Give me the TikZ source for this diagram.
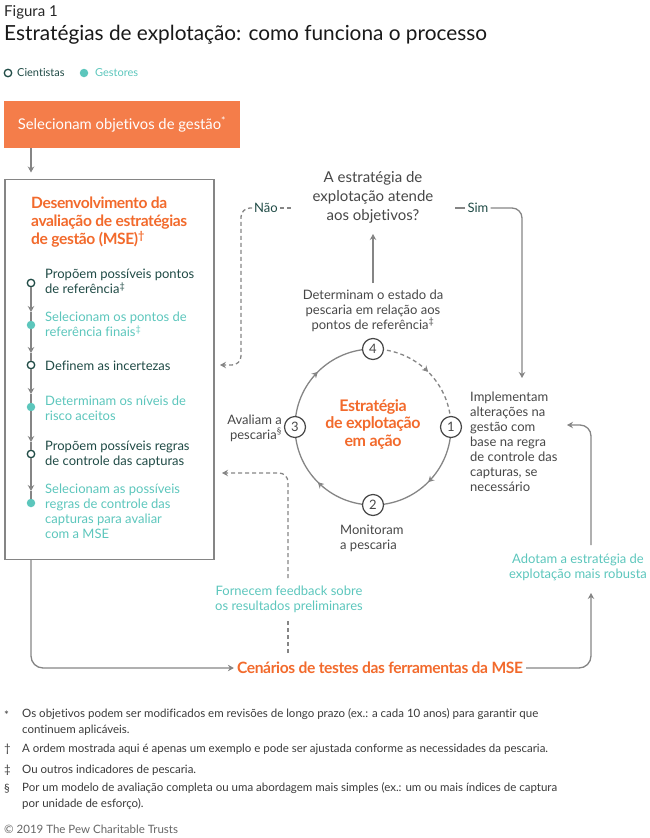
\documentclass[tikz,border=0pt]{standalone}
\usepackage{fontspec}
\setmainfont{Lato}[Ligatures=NoCommon]
\newfontfamily\tightfont[LetterSpace=-2.5,Ligatures=NoCommon]{Lato}
\usetikzlibrary{arrows.meta,decorations.markings,calc}
\definecolor{orbox}{HTML}{F47D4A}
\definecolor{ortext}{HTML}{F26A2C}
\definecolor{gest}{HTML}{5CC6BC}
\definecolor{cient}{HTML}{1F4A45}
\definecolor{lin}{HTML}{858585}
\definecolor{txt}{HTML}{474747}
\definecolor{foot}{HTML}{3A3A3A}
\tikzset{
  ln/.style={draw=lin, line width=1.3pt},
  arr/.style={ln, -{Stealth[length=6pt,width=6.5pt]}},
  dsh/.style={ln, dash pattern=on 4pt off 3pt},
  dsharr/.style={dsh, -{Stealth[length=6pt,width=6.5pt]}},
  opendot/.style={circle, draw=cient, line width=1.3pt, fill=white, minimum size=7.5pt, inner sep=0pt},
  filldot/.style={circle, fill=gest, minimum size=8.5pt, inner sep=0pt},
  steptxt/.style={anchor=west, align=left, inner sep=0pt, font=\fontsize{13}{15}\selectfont},
  body/.style={align=center, inner sep=0pt, text=txt, font=\fontsize{13}{15}\selectfont},
  num/.style={circle, draw=txt, line width=1.2pt, fill=white, minimum size=21pt, inner sep=0pt, text=txt, font=\fontsize{13}{15}\selectfont},
  cycarr/.style={ln, decoration={markings, mark=at position 0.5 with {\arrow{Stealth[length=6pt,width=6.5pt]}}}, postaction=decorate},
  fn/.style={anchor=west, align=left, inner sep=0pt, text=foot, font=\fontsize{11.5}{16}\selectfont},
}
\begin{document}
\begin{tikzpicture}[x=1pt,y=-1pt]
\useasboundingbox (0,0) rectangle (650,838);
% header
\node (fig) [anchor=west, inner sep=0pt, text=black!85, font=\fontsize{15}{18}\selectfont] at (4,12) {Figura 1};
\node (title) [anchor=west, inner sep=0pt, text=black!90, font=\fontsize{20.8}{24}\selectfont] at (4,35) {Estratégias de explotação: como funciona o processo};
% legend
\node (lg1) [opendot] at (8,73) {};
\node (lg1t) [anchor=west, inner sep=0pt, text=cient, font=\fontsize{11}{13}\selectfont] at (17,73) {Cientistas};
\node (lg2) [filldot] at (84,73) {};
\node (lg2t) [anchor=west, inner sep=0pt, text=gest, font=\fontsize{11}{13}\selectfont] at (95,73) {Gestores};
% objectives box
\node (obj) [fill=orbox, minimum width=236pt, minimum height=47pt, anchor=north west, inner sep=0pt, outer sep=0pt, text=white, font=\fontsize{14.8}{18}\selectfont] at (4,101) {Selecionam objetivos de gestão\textsuperscript{*}};
% MSE box
\node (box) [draw=lin, line width=1.4pt, minimum width=209pt, minimum height=380pt, anchor=north west, inner sep=0pt, outer sep=0pt] at (5,179.5) {};
\coordinate (tx) at (31,0);
\draw[arr] (obj.south -| tx) -- ($(box.north -| tx)+(0,-7)$);
\node (head) [anchor=north west, align=left, inner sep=0pt, text=ortext, font=\tightfont\bfseries\fontsize{15.6}{18}\selectfont] at (31,197) {Desenvolvimento da\\avaliação de estratégias\\de gestão (MSE)\textsuperscript{†}};
% timeline
\node (c1) [opendot] at (31,283) {};
\node (c2) [filldot] at (31,325) {};
\node (c3) [opendot] at (31,365) {};
\node (c4) [filldot] at (31,407) {};
\node (c5) [opendot] at (31,454) {};
\node (c6) [filldot] at (31,503) {};
\coordinate (a1) at (31,312);
\coordinate (a2) at (31,353);
\coordinate (a3) at (31,394);
\coordinate (a4) at (31,442);
\coordinate (a5) at (31,491);
\draw[arr] (c1) -- (a1); \draw[ln] (a1) -- (c2);
\draw[arr] (c2) -- (a2); \draw[ln] (a2) -- (c3);
\draw[arr] (c3) -- (a3); \draw[ln] (a3) -- (c4);
\draw[arr] (c4) -- (a4); \draw[ln] (a4) -- (c5);
\draw[arr] (c5) -- (a5); \draw[ln] (a5) -- (c6);
\node (s1) [steptxt, text=cient] at (45,281.5) {Propõem possíveis pontos\\de referência\textsuperscript{‡}};
\node (s2) [steptxt, text=gest] at (45,324.5) {Selecionam os pontos de\\referência finais\textsuperscript{‡}};
\node (s3) [steptxt, text=cient] at (45,366) {Definem as incertezas};
\node (s4) [steptxt, text=gest] at (45,408.5) {Determinam os níveis de\\risco aceitos};
\node (s5) [steptxt, text=cient] at (45,454) {Propõem possíveis regras\\de controle das capturas};
\node (s6) [steptxt, text=gest] at (45,511.5) {Selecionam as possíveis\\regras de controle das\\capturas para avaliar\\com a MSE};
% question
\node (q) [align=center, inner sep=0pt, text=txt, font=\fontsize{15}{19}\selectfont] at (373,197) {A estratégia de\\explotação atende\\aos objetivos?};
\node (d) [body] at (373,310.5) {Determinam o estado da\\pescaria em relação aos\\pontos de referência\textsuperscript{‡}};
\draw[arr] (373,283) -- (373,234);
\node (sim) [inner sep=2pt, text=cient, font=\fontsize{13}{15}\selectfont] at (478,208) {Sim};
\node (nao) [inner sep=2pt, text=cient, font=\fontsize{13}{15}\selectfont] at (266,208) {Não};
\coordinate (simL) at (455,208);
\draw[ln] (simL) -- (sim.west);
\coordinate (impT) at (522,378);
\draw[arr, rounded corners=10pt] (sim.east) -| (impT);
\coordinate (naoR) at (293,208);
\draw[dsh] (nao.east) -- (naoR);
\coordinate (naoC) at (241,365);
\coordinate (naoT) at (220,365);
\draw[dsharr, rounded corners=9pt] (nao.west) -| (naoC) -- (naoT);
% cycle
\coordinate (cc) at (373,427);
\draw[cycarr] ($(cc)+(78,0)$) arc[start angle=0, end angle=90, radius=78];
\draw[cycarr] ($(cc)+(0,78)$) arc[start angle=90, end angle=180, radius=78];
\draw[cycarr] ($(cc)+(-78,0)$) arc[start angle=180, end angle=270, radius=78];
\draw[cycarr, dash pattern=on 4pt off 3pt] ($(cc)+(0,-78)$) arc[start angle=270, end angle=360, radius=78];
\node (n1) [num] at (451,427) {1};
\node (n2) [num] at (373,505) {2};
\node (n3) [num] at (295,427) {3};
\node (n4) [num] at (373,349) {4};
\node (ctr) [align=center, inner sep=0pt, text=ortext, font=\tightfont\bfseries\fontsize{16}{17.5}\selectfont] at (373,424) {Estratégia\\de explotação\\em ação};
\node (aval) [anchor=east, align=right, inner sep=0pt, text=txt, font=\fontsize{13}{15}\selectfont] at (282,428) {Avaliam a\\pescaria\textsuperscript{§}};
\node (mon) [anchor=west, align=left, inner sep=0pt, text=txt, font=\fontsize{13}{15}\selectfont] at (340,538.5) {Monitoram\\a pescaria};
\node (imp) [anchor=west, align=left, inner sep=0pt, text=txt, font=\fontsize{13}{15}\selectfont] at (470,442) {Implementam\\alterações na\\gestão com\\base na regra\\de controle das\\capturas, se\\necessário};
% right side
\node (adot) [align=center, inner sep=0pt, text=gest, font=\fontsize{13}{15}\selectfont] at (578,567) {Adotam a estratégia de\\explotação mais robusta};
\coordinate (impB) at (591,545);
\coordinate (impA) at (567,425);
\draw[arr, rounded corners=11pt] (impB) |- (impA);
% bottom
\node (cen) [inner sep=3pt, text=ortext, font=\tightfont\bfseries\fontsize{15.6}{18}\selectfont] at (380,668) {Cenários de testes das ferramentas da MSE};
\draw[arr, rounded corners=12pt] (box.south -| tx) |- (cen.west);
\coordinate (adotA) at (591,593);
\draw[arr, rounded corners=12pt] (cen.east) -| (adotA);
\node (fb) [align=center, inner sep=0pt, text=gest, font=\fontsize{13}{15}\selectfont] at (289,599) {Fornecem feedback sobre\\os resultados preliminares};
\coordinate (fbB) at (288,653);
\coordinate (fbT) at (288,578);
\coordinate (fbA) at (222,473);
\draw[dsh] (fbB) -- (288,620);
\draw[dsharr, rounded corners=9pt] (fbT) |- (fbA);
% footnotes
\node (f1s) [fn] at (4,715) {*};
\node (f1) [fn, anchor=north west] at (22,708) {Os objetivos podem ser modificados em revisões de longo prazo (ex.: a cada 10 anos) para garantir que\\continuem aplicáveis.};
\node (f2s) [fn] at (4,749) {†};
\node (f2) [fn] at (22,749) {A ordem mostrada aqui é apenas um exemplo e pode ser ajustada conforme as necessidades da pescaria.};
\node (f3s) [fn] at (4,770) {‡};
\node (f3) [fn] at (22,770) {Ou outros indicadores de pescaria.};
\node (f4s) [fn] at (4,789) {§};
\node (f4) [fn, anchor=north west] at (22,782) {Por um modelo de avaliação completa ou uma abordagem mais simples (ex.: um ou mais índices de captura\\por unidade de esforço).};
\node (copy) [fn, text=black!60] at (4,829) {© 2019 The Pew Charitable Trusts};
\end{tikzpicture}
\end{document}
